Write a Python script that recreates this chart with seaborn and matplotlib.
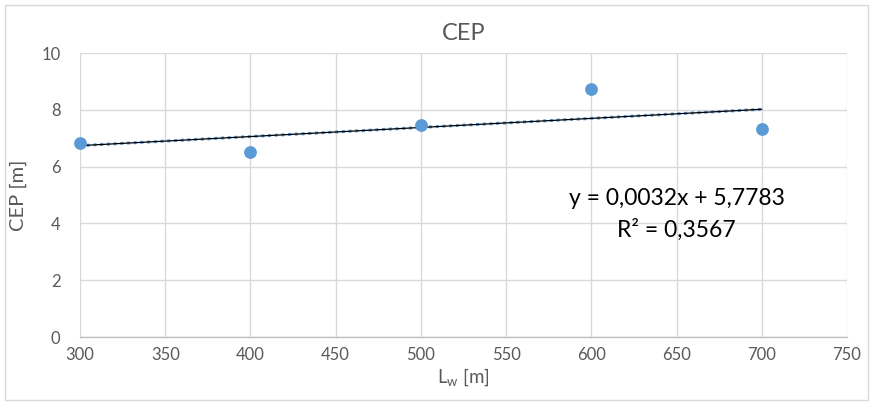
import numpy as np
import pandas as pd
import seaborn as sns
import matplotlib
matplotlib.use("Agg")
import matplotlib.pyplot as plt
from matplotlib.patches import Rectangle

# ---- data ----
lw = [300, 400, 500, 600, 700]
cep = [6.84, 6.52, 7.47, 8.72, 7.33]
trend_slope = 0.0032
trend_intercept = 5.7783
eq_text = "y = 0,0032x + 5,7783"
r2_text = "R² = 0,3567"
x_ticks = [300, 350, 400, 450, 500, 550, 600, 650, 700, 750]
y_ticks = [0, 2, 4, 6, 8, 10]
title = "CEP"
xlabel = "L$_\\mathregular{w}$ [m]"
ylabel = "CEP [m]"

sns.set_theme(style="white")
plt.rcParams['font.family'] = ['Lato', 'DejaVu Sans']
plt.rcParams['mathtext.fontset'] = 'custom'
plt.rcParams['mathtext.rm'] = 'Lato'

txt = "#595959"
blue = "#5B9BD5"
grid = "#d9d9d9"

fig = plt.figure(figsize=(8.72, 4.04), dpi=100)
ax = fig.add_axes([80/872, 1-337/404, (847-80)/872, (337-53)/404])

df = pd.DataFrame({"Lw": lw, "CEP": cep})
xs = np.array([min(lw), max(lw)], dtype=float)
tr = pd.DataFrame({"Lw": xs, "CEP": trend_intercept + trend_slope * xs})

sns.lineplot(data=tr, x="Lw", y="CEP", ax=ax, color=blue, lw=2.2,
             linestyle=(0, (1, 1.2)), zorder=3)
sns.lineplot(data=tr, x="Lw", y="CEP", ax=ax, color="black", lw=0.9, zorder=4)
sns.scatterplot(data=df, x="Lw", y="CEP", ax=ax, color=blue, s=85,
                edgecolor=blue, linewidth=0, zorder=5, clip_on=False)

ax.set_xlim(300, 750)
ax.set_ylim(0, 10)
ax.set_xticks(x_ticks)
ax.set_yticks(y_ticks)
ax.grid(True, color=grid, lw=1.0)
ax.set_axisbelow(True)
for s in ["top", "right", "left"]:
    ax.spines[s].set_visible(False)
ax.spines["bottom"].set_color("#bfbfbf")
ax.spines["bottom"].set_linewidth(1.0)
ax.tick_params(axis="both", length=0, labelsize=12, colors=txt)
ax.tick_params(axis="y", pad=14)
ax.tick_params(axis="x", pad=7)

ax.set_title(title, fontsize=17, color=txt, pad=9)
ax.set_xlabel(xlabel, fontsize=13.5, color=txt, labelpad=3)
ax.set_ylabel(ylabel, fontsize=14.5, color=txt, labelpad=10)

ax.text(650, 4.89, eq_text, fontsize=16.5, color="black", ha="center", va="center")
ax.text(650, 3.77, r2_text, fontsize=16.5, color="black", ha="center", va="center")

fig.patches.append(Rectangle((5/872, 4/404), 863/872, 395/404, transform=fig.transFigure,
                             fill=False, edgecolor="#d9d9d9", lw=1.0))

fig.savefig("out.png", dpi=100)
